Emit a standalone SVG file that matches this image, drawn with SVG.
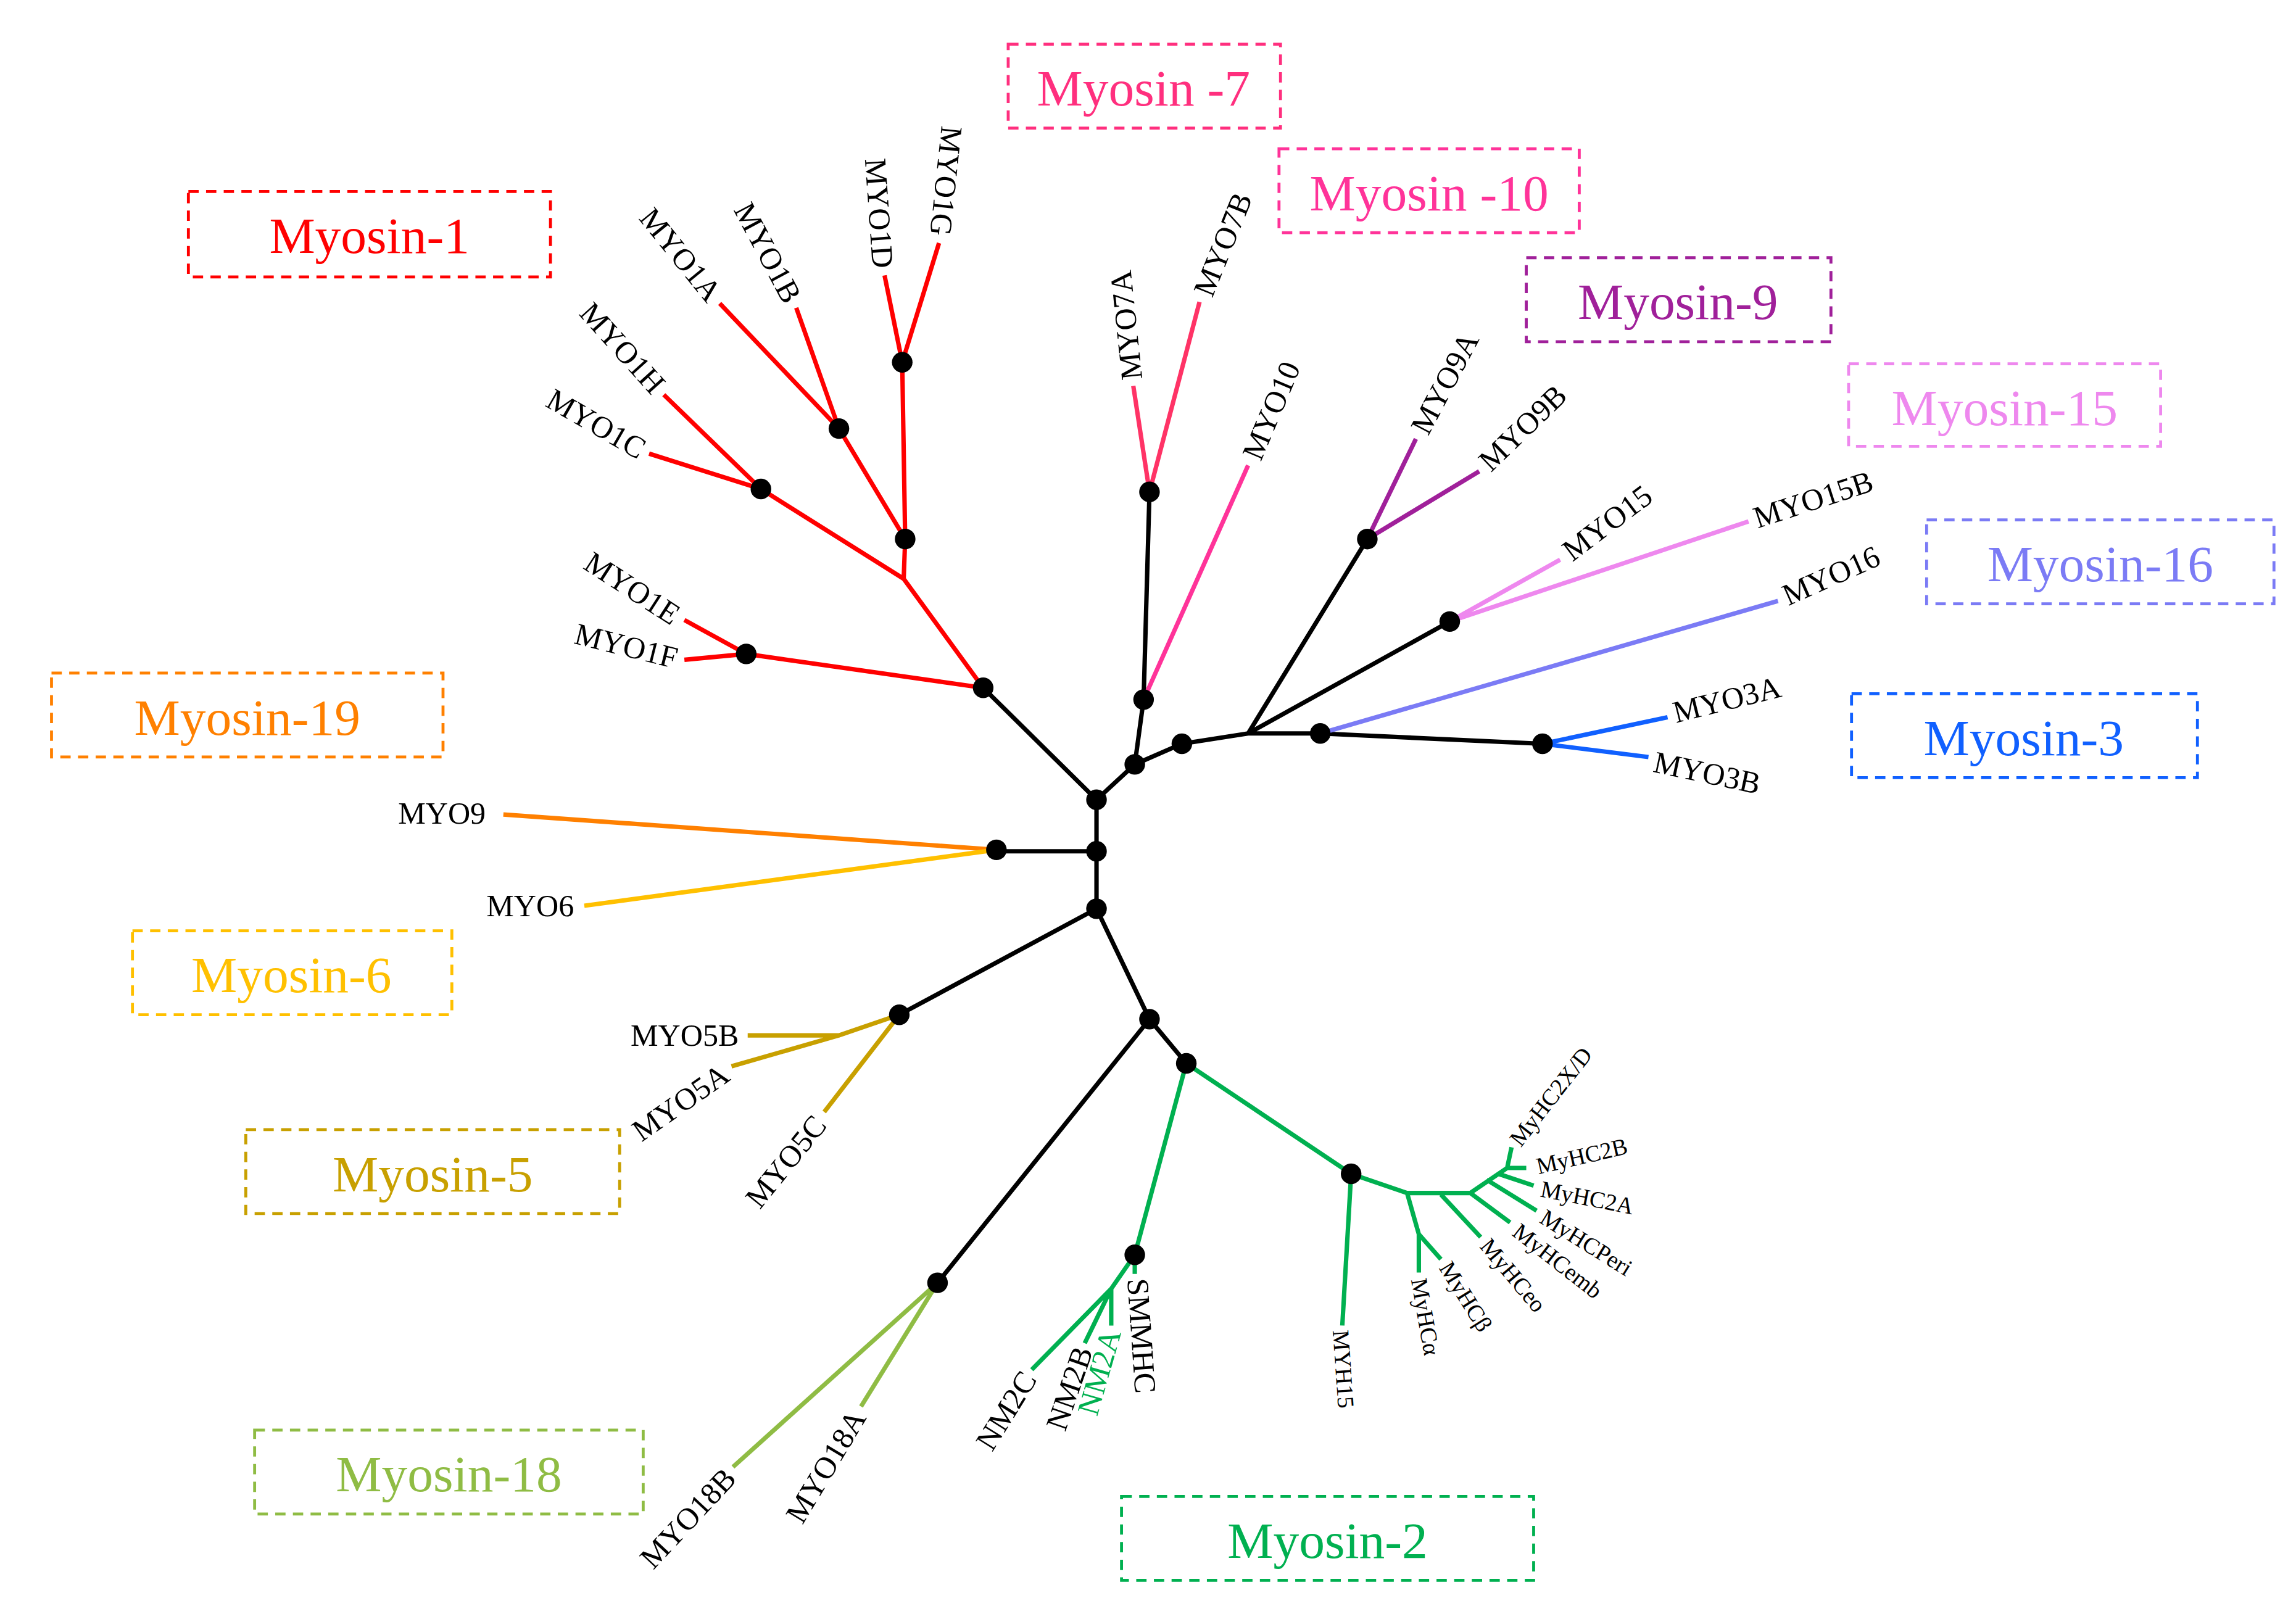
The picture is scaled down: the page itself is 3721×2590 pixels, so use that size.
<svg xmlns="http://www.w3.org/2000/svg" width="3721" height="2590" viewBox="0 0 3721 2590">
<style>
.e{fill:none;stroke-width:3;stroke-linecap:butt;stroke-linejoin:round}
.k{stroke:#000}.r{stroke:#ff0000}.p7{stroke:#ff3366}.p10{stroke:#ff3399}.pu{stroke:#a0209a}.vi{stroke:#ee88ee}.bv{stroke:#7b7bf5}.bl{stroke:#1060ff}
.or{stroke:#ff8000}.ye{stroke:#ffc000}.go{stroke:#c8a000}.lg{stroke:#8fbc44}.gr{stroke:#00b050}
.d{fill:#000}
.t{font-family:"Liberation Serif",serif;font-size:21px;fill:#000;dominant-baseline:central}
.s{font-size:16px}
.b{fill:none;stroke-width:2;stroke-dasharray:7 5}
.bt{font-family:"Liberation Serif",serif;font-size:35px;text-anchor:middle;dominant-baseline:central}
</style>
<rect width="3721" height="2590" fill="#fff"/>
<g transform="scale(2.3853,2.3871)">
<g id="connectors">
<path class="e k" d="M745,543L668,467M745,543L771,519M745,543V617M745,578H677M745,617L611,689M745,617L781,692L806,722M781,692L637,871M771,519L777,475L781,334M771,519L803,505L848,498L929,366M848,498L985,422M848,498L897,498L1048,505"/>
<path class="e r" d="M668,467L614,393L615,366L613,246L601,187M613,246L638,165M615,366L570,291L489,206M570,291L541,209M614,393L517,332L451,268M517,332L441,308M668,467L507,444L465,421M507,444L465,448"/>
<path class="e p7" d="M781,334L770,262M781,334L815,205"/>
<path class="e p10" d="M777,475L848,316"/>
<path class="e pu" d="M929,366L962,298M929,366L1005,320"/>
<path class="e vi" d="M985,422L1060,380M985,422L1188,354"/>
<path class="e bv" d="M897,498L1208,408"/>
<path class="e bl" d="M1048,505L1133,487M1048,505L1120,514"/>
<path class="e or" d="M677,577L342,553"/>
<path class="e ye" d="M677,577L397,615"/>
<path class="e go" d="M611,689L570,703L508,703M570,703L497,724M611,689L560,755"/>
<path class="e lg" d="M637,871L498,996M637,871L585,955"/>
<path class="e gr" d="M806,722L771,852L755,875L701,930M755,875L737,912M755,875L755,900M771,852L771,865M806,722L918,797L912,900M918,797L956,810L999,810L1024,793L1027,779M956,810L964,838L964,864M964,838L979,855M979,811L1006,840M999,810L1026,830M1010,801L1044,822M1018,797L1042,805M1024,793L1037,793"/>
</g>
<g id="nodes">
<circle class="d" cx="745" cy="543" r="7"/><circle class="d" cx="745" cy="578" r="7"/><circle class="d" cx="745" cy="617" r="7"/>
<circle class="d" cx="668" cy="467" r="7"/><circle class="d" cx="771" cy="519" r="7"/><circle class="d" cx="507" cy="444" r="7"/>
<circle class="d" cx="615" cy="366" r="7"/><circle class="d" cx="613" cy="246" r="7"/><circle class="d" cx="570" cy="291" r="7"/><circle class="d" cx="517" cy="332" r="7"/>
<circle class="d" cx="777" cy="475" r="7"/><circle class="d" cx="781" cy="334" r="7"/><circle class="d" cx="803" cy="505" r="7"/><circle class="d" cx="929" cy="366" r="7"/>
<circle class="d" cx="985" cy="422" r="7"/><circle class="d" cx="897" cy="498" r="7"/><circle class="d" cx="1048" cy="505" r="7"/>
<circle class="d" cx="677" cy="577" r="7"/><circle class="d" cx="611" cy="689" r="7"/><circle class="d" cx="781" cy="692" r="7"/><circle class="d" cx="806" cy="722" r="7"/>
<circle class="d" cx="637" cy="871" r="7"/><circle class="d" cx="771" cy="852" r="7"/><circle class="d" cx="918" cy="797" r="7"/>
</g>
<g id="leaf-labels">
<text class="t" text-anchor="end" transform="translate(639,160) rotate(96)">MYO1G</text>
<text class="t" text-anchor="end" transform="translate(600,182) rotate(86)">MYO1D</text>
<text class="t" text-anchor="end" transform="translate(539,204) rotate(62)">MYO1B</text>
<text class="t" text-anchor="end" transform="translate(486,202) rotate(51)">MYO1A</text>
<text class="t" text-anchor="end" transform="translate(448,264) rotate(48)">MYO1H</text>
<text class="t" text-anchor="end" transform="translate(437,306) rotate(30)">MYO1C</text>
<text class="t" text-anchor="end" transform="translate(460,419) rotate(33)">MYO1E</text>
<text class="t" text-anchor="end" transform="translate(460,447) rotate(14)">MYO1F</text>
<text class="t" text-anchor="start" transform="translate(769,258) rotate(-96)">MYO7A</text>
<text class="t" text-anchor="start" transform="translate(817,200) rotate(-68)">MYO7B</text>
<text class="t" text-anchor="start" transform="translate(850,311) rotate(-67)">MYO10</text>
<text class="t" text-anchor="start" transform="translate(964,293) rotate(-62)">MYO9A</text>
<text class="t" text-anchor="start" transform="translate(1008,316) rotate(-44)">MYO9B</text>
<text class="t" text-anchor="start" transform="translate(1064,376) rotate(-37)">MYO15</text>
<text class="t" text-anchor="start" transform="translate(1192,352) rotate(-18)">MYO15B</text>
<text class="t" text-anchor="start" transform="translate(1212,405) rotate(-24)">MYO16</text>
<text class="t" text-anchor="start" transform="translate(1137,484) rotate(-14)">MYO3A</text>
<text class="t" text-anchor="start" transform="translate(1124,517) rotate(12)">MYO3B</text>
<text class="t" text-anchor="end" transform="translate(330,552)">MYO9</text>
<text class="t" text-anchor="end" transform="translate(390,615)">MYO6</text>
<text class="t" text-anchor="end" transform="translate(502,703)">MYO5B</text>
<text class="t" text-anchor="end" transform="translate(493,727) rotate(-35)">MYO5A</text>
<text class="t" text-anchor="end" transform="translate(557,760) rotate(-51)">MYO5C</text>
<text class="t" text-anchor="end" transform="translate(496,1000) rotate(-47)">MYO18B</text>
<text class="t" text-anchor="end" transform="translate(583,959) rotate(-59)">MYO18A</text>
<text class="t" text-anchor="end" transform="translate(699,933) rotate(-58)">NM2C</text>
<text class="t" text-anchor="end" transform="translate(736,915) rotate(-71)">NM2B</text>
<text class="t" text-anchor="end" transform="translate(755,903) rotate(-74)" style="fill:#00b050">NM2A</text>
<text class="t" text-anchor="start" transform="translate(773,868) rotate(86)">SMMHC</text>
<text class="t s" text-anchor="start" transform="translate(911,903) rotate(86)">MYH15</text>
<text class="t s" text-anchor="start" transform="translate(964,868) rotate(80)">MyHCα</text>
<text class="t s" text-anchor="start" transform="translate(982,858) rotate(58)">MyHCβ</text>
<text class="t s" text-anchor="start" transform="translate(1009,843) rotate(50)">MyHCeo</text>
<text class="t s" text-anchor="start" transform="translate(1030,834) rotate(38)">MyHCemb</text>
<text class="t s" text-anchor="start" transform="translate(1048,825) rotate(32)">MyHCPeri</text>
<text class="t s" text-anchor="start" transform="translate(1047,807) rotate(11)">MyHC2A</text>
<text class="t s" text-anchor="start" transform="translate(1044,792) rotate(-13)">MyHC2B</text>
<text class="t s" text-anchor="start" transform="translate(1029,776) rotate(-52)">MyHC2X/D</text>
</g>
<g id="box-myosin7"><rect class="b" x="685" y="30" width="185" height="57" stroke="#ff2f7e"/><text class="bt" x="777" y="60" fill="#ff2f7e">Myosin -7</text></g>
<g id="box-myosin10"><rect class="b" x="869" y="101" width="204" height="57" stroke="#ff3399"/><text class="bt" x="971" y="131" fill="#ff3399">Myosin -10</text></g>
<g id="box-myosin9"><rect class="b" x="1037" y="175" width="207" height="57" stroke="#a0209a"/><text class="bt" x="1140" y="205" fill="#a0209a">Myosin-9</text></g>
<g id="box-myosin15"><rect class="b" x="1256" y="247" width="212" height="56" stroke="#ee88ee"/><text class="bt" x="1362" y="277" fill="#ee88ee">Myosin-15</text></g>
<g id="box-myosin16"><rect class="b" x="1309" y="353" width="236" height="57" stroke="#7b7bf5"/><text class="bt" x="1427" y="383" fill="#7b7bf5">Myosin-16</text></g>
<g id="box-myosin3"><rect class="b" x="1258" y="471" width="235" height="57" stroke="#1060ff"/><text class="bt" x="1375" y="501" fill="#1060ff">Myosin-3</text></g>
<g id="box-myosin1"><rect class="b" x="128" y="130" width="246" height="58" stroke="#ff0000"/><text class="bt" x="251" y="160" fill="#ff0000">Myosin-1</text></g>
<g id="box-myosin19"><rect class="b" x="35" y="457" width="266" height="57" stroke="#ff8000"/><text class="bt" x="168" y="487" fill="#ff8000">Myosin-19</text></g>
<g id="box-myosin6"><rect class="b" x="90" y="632" width="217" height="57" stroke="#ffc000"/><text class="bt" x="198" y="662" fill="#ffc000">Myosin-6</text></g>
<g id="box-myosin5"><rect class="b" x="167" y="767" width="254" height="57" stroke="#c8a000"/><text class="bt" x="294" y="797" fill="#c8a000">Myosin-5</text></g>
<g id="box-myosin18"><rect class="b" x="173" y="971" width="264" height="57" stroke="#8fbc44"/><text class="bt" x="305" y="1001" fill="#8fbc44">Myosin-18</text></g>
<g id="box-myosin2"><rect class="b" x="762" y="1016" width="280" height="57" stroke="#00b050"/><text class="bt" x="902" y="1046" fill="#00b050">Myosin-2</text></g>
</g>
</svg>
